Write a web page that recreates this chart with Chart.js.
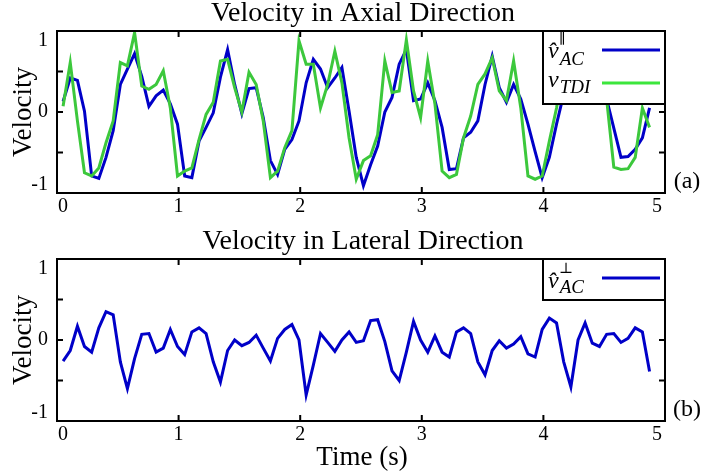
<!DOCTYPE html>
<html>
<head>
<meta charset="utf-8">
<script src="https://cdn.jsdelivr.net/npm/chart.js@4.4.1/dist/chart.umd.min.js"></script>
<style>
  html, body { margin: 0; padding: 0; background: #fff; }
  #wrap { position: relative; width: 702px; height: 475px; }
  .panel { position: absolute; left: 0; width: 702px; }
</style>
</head>
<body>
<div id="wrap">
  <div class="panel" style="top:0;height:230px"><canvas id="axialChart"></canvas></div>
  <div class="panel" style="top:230px;height:245px"><canvas id="lateralChart"></canvas></div>
</div>
<script>
// sample times (s)
const times = [0.050, 0.109, 0.168, 0.226, 0.285, 0.344, 0.403, 0.462, 0.521, 0.579,
  0.638, 0.697, 0.756, 0.815, 0.874, 0.932, 0.991, 1.050, 1.109, 1.168,
  1.226, 1.285, 1.344, 1.403, 1.461, 1.520, 1.579, 1.638, 1.696, 1.755,
  1.814, 1.873, 1.932, 1.990, 2.049, 2.108, 2.167, 2.226, 2.285, 2.343,
  2.402, 2.461, 2.520, 2.579, 2.637, 2.696, 2.755, 2.814, 2.873, 2.932,
  2.990, 3.049, 3.108, 3.167, 3.226, 3.285, 3.343, 3.402, 3.461, 3.520,
  3.579, 3.637, 3.696, 3.755, 3.814, 3.873, 3.932, 3.990, 4.049, 4.108,
  4.167, 4.226, 4.285, 4.343, 4.402, 4.461, 4.520, 4.579, 4.638, 4.696,
  4.755, 4.814, 4.873];

// axial velocity, estimated (blue)
const axialAC = [0.13, 0.42, 0.39, 0.01, -0.79, -0.82, -0.56, -0.23, 0.34, 0.53,
  0.72, 0.44, 0.07, 0.20, 0.27, 0.10, -0.15, -0.79, -0.81, -0.36,
  -0.19, -0.01, 0.43, 0.77, 0.34, -0.02, 0.29, 0.30, -0.07, -0.60,
  -0.77, -0.46, -0.34, -0.11, 0.36, 0.65, 0.53, 0.30, 0.42, 0.55,
  0.01, -0.56, -0.91, -0.65, -0.42, 0.00, 0.18, 0.59, 0.77, 0.14,
  0.16, 0.36, 0.14, -0.19, -0.71, -0.70, -0.32, -0.25, -0.11, 0.34,
  0.69, 0.30, 0.12, 0.34, 0.16, -0.15, -0.49, -0.81, -0.56, -0.15,
  0.22, 0.50, 0.72, 0.60, 0.45, 0.30, 0.16, -0.20, -0.56, -0.55,
  -0.46, -0.32, 0.05];

// axial velocity, TDI (green)
const axialTDI = [0.07, 0.61, -0.11, -0.75, -0.79, -0.69, -0.38, -0.11, 0.61, 0.57,
  0.98, 0.32, 0.28, 0.34, 0.51, 0.05, -0.79, -0.73, -0.69, -0.34,
  -0.03, 0.12, 0.63, 0.65, 0.30, 0.00, 0.49, 0.34, -0.11, -0.81,
  -0.73, -0.44, -0.23, 0.88, 0.59, 0.59, 0.05, 0.34, 0.75, 0.36,
  -0.32, -0.83, -0.60, -0.54, -0.28, 0.63, 0.24, 0.26, 0.89, 0.26,
  -0.07, 0.63, 0.10, -0.73, -0.81, -0.77, -0.32, -0.05, 0.34, 0.47,
  0.67, 0.26, 0.14, 0.63, 0.05, -0.79, -0.83, -0.79, -0.36, 0.05,
  0.55, 0.75, 0.45, 0.55, 0.70, 0.40, 0.16, -0.68, -0.71, -0.70,
  -0.56, 0.05, -0.19];

// lateral velocity (blue)
const lateralAC = [-0.26, -0.13, 0.17, -0.08, -0.15, 0.15, 0.35, 0.31, -0.27, -0.60,
  -0.23, 0.07, 0.08, -0.15, -0.10, 0.13, -0.08, -0.18, 0.10, 0.15,
  0.08, -0.27, -0.52, -0.13, 0.00, -0.07, -0.03, 0.06, -0.10, -0.26,
  0.02, 0.13, 0.19, 0.00, -0.68, -0.31, 0.08, -0.03, -0.14, 0.00,
  0.10, -0.03, -0.01, 0.24, 0.25, -0.02, -0.38, -0.50, -0.15, 0.23,
  0.00, -0.15, 0.05, -0.15, -0.21, 0.10, 0.15, 0.08, -0.27, -0.43,
  -0.13, -0.01, -0.10, -0.05, 0.04, -0.17, -0.21, 0.13, 0.27, 0.21,
  -0.27, -0.58, 0.00, 0.21, -0.04, -0.08, 0.07, 0.08, -0.03, 0.02,
  0.15, 0.10, -0.39];

const xTicks = [0, 1, 2, 3, 4, 5];
const yTicks = [-1, -0.5, 0, 0.5, 1];
const yLabelled = [-1, 0, 1];

const SERIF = '"Liberation Serif", "Times New Roman", Times, serif';
const BLUE = '#0000c8';
const GREEN = '#3cc83c';
const GREEN_KEY = '#3ce63c';

function points(values) {
  return values.map((v, i) => ({ x: times[i], y: v }));
}

// italic symbol with optional superscript and subscript
function drawSymbol(ctx, x, base, sym) {
  ctx.textAlign = 'left';
  ctx.textBaseline = 'alphabetic';
  ctx.font = `italic 24px ${SERIF}`;
  ctx.fillText(sym.main, x, base);
  const w = ctx.measureText('v').width;
  if (sym.sup) {
    ctx.font = `15px "DejaVu Serif", ${SERIF}`;
    ctx.fillText(sym.sup, x + w, base - 15);
  }
  ctx.font = `italic 19px ${SERIF}`;
  ctx.fillText(sym.sub, x + w + 1, base + sym.subDrop);
}

function decor(panel) {
  return {
    id: 'decor',
    afterDraw(chart) {
      const { ctx, chartArea: a, scales: { x, y } } = chart;
      ctx.save();
      ctx.strokeStyle = '#000';
      ctx.fillStyle = '#000';
      ctx.lineWidth = 2;

      // inward ticks on all four sides
      ctx.beginPath();
      xTicks.forEach(t => {
        const px = x.getPixelForValue(t);
        ctx.moveTo(px, a.bottom); ctx.lineTo(px, a.bottom - 6);
        ctx.moveTo(px, a.top); ctx.lineTo(px, a.top + 6);
      });
      yTicks.forEach(t => {
        const py = y.getPixelForValue(t);
        ctx.moveTo(a.left, py); ctx.lineTo(a.left + 6, py);
        ctx.moveTo(a.right, py); ctx.lineTo(a.right - 6, py);
      });
      ctx.stroke();

      // legend box inside the plot
      const box = { left: a.right - 122, top: a.top, w: 122, h: panel.legendHeight };
      ctx.fillStyle = '#fff';
      ctx.fillRect(box.left, box.top, box.w, box.h);
      ctx.strokeRect(box.left, box.top, box.w, box.h);
      panel.keys.forEach(k => {
        ctx.strokeStyle = k.color;
        ctx.lineWidth = 3;
        ctx.beginPath();
        ctx.moveTo(box.left + 59, box.top + k.lineY);
        ctx.lineTo(box.left + 117, box.top + k.lineY);
        ctx.stroke();
        ctx.fillStyle = '#000';
        drawSymbol(ctx, box.left + 5, box.top + k.base, k.sym);
      });

      // frame
      ctx.strokeStyle = '#000';
      ctx.lineWidth = 2;
      ctx.strokeRect(a.left, a.top, a.right - a.left, a.bottom - a.top);

      // tick labels
      ctx.fillStyle = '#000';
      ctx.font = `20px ${SERIF}`;
      ctx.textBaseline = 'top';
      xTicks.forEach((t, i) => {
        const px = x.getPixelForValue(t);
        if (i === 0) { ctx.textAlign = 'left'; ctx.fillText(String(t), px + 1, a.bottom + 4); }
        else if (i === xTicks.length - 1) { ctx.textAlign = 'right'; ctx.fillText(String(t), px - 3, a.bottom + 4); }
        else { ctx.textAlign = 'center'; ctx.fillText(String(t), px, a.bottom + 4); }
      });
      ctx.textAlign = 'right';
      ctx.textBaseline = 'middle';
      yLabelled.forEach(t => {
        const py = y.getPixelForValue(t);
        const shift = t === 1 ? 10 : t === -1 ? -8 : 0;
        ctx.fillText(String(t), a.left - 9, py + shift);
      });

      // titles
      ctx.font = `28px ${SERIF}`;
      ctx.textAlign = 'center';
      ctx.fillText(panel.title, (a.left + a.right) / 2 + 2, panel.titleY);
      ctx.font = `27px ${SERIF}`;
      if (panel.xTitle) ctx.fillText(panel.xTitle, (a.left + a.right) / 2 + 1, panel.xTitleY);
      ctx.save();
      ctx.translate(24, (a.top + a.bottom) / 2);
      ctx.rotate(-Math.PI / 2);
      ctx.fillText('Velocity', 0, 0);
      ctx.restore();

      // panel letter
      ctx.font = `24px ${SERIF}`;
      ctx.fillText(panel.letter, 687, a.bottom - 11);
      ctx.restore();
    }
  };
}

function makeChart(id, datasets, pad, panel) {
  return new Chart(document.getElementById(id), {
    type: 'line',
    data: { datasets },
    options: {
      responsive: true,
      maintainAspectRatio: false,
      animation: false,
      layout: { padding: pad },
      plugins: { legend: { display: false }, tooltip: { enabled: false }, title: { display: false } },
      scales: {
        x: { type: 'linear', min: 0, max: 5, display: false },
        y: { type: 'linear', min: -1, max: 1, display: false }
      },
      elements: { point: { radius: 0 }, line: { tension: 0, borderWidth: 3 } }
    },
    plugins: [decor(panel)]
  });
}

makeChart('axialChart', [
  { data: points(axialTDI), borderColor: GREEN, borderWidth: 3 },
  { data: points(axialAC), borderColor: BLUE, borderWidth: 3 }
], { left: 57, right: 37, top: 31, bottom: 37 }, {
  title: 'Velocity in Axial Direction', titleY: 14, letter: '(a)', legendHeight: 73,
  keys: [
    { color: BLUE, lineY: 19, base: 27, sym: { main: 'v\u0302', sup: '\u2225', sub: 'AC', subDrop: 7 } },
    { color: GREEN_KEY, lineY: 52, base: 56, sym: { main: 'v', sub: 'TDI', subDrop: 6 } }
  ]
});

makeChart('lateralChart', [
  { data: points(lateralAC), borderColor: BLUE, borderWidth: 3 }
], { left: 57, right: 37, top: 29, bottom: 54 }, {
  title: 'Velocity in Lateral Direction', titleY: 12, letter: '(b)', legendHeight: 41,
  xTitle: 'Time (s)', xTitleY: 228,
  keys: [
    { color: BLUE, lineY: 19, base: 29, sym: { main: 'v\u0302', sup: '\u22A5', sub: 'AC', subDrop: 5 } }
  ]
});
</script>
</body>
</html>
